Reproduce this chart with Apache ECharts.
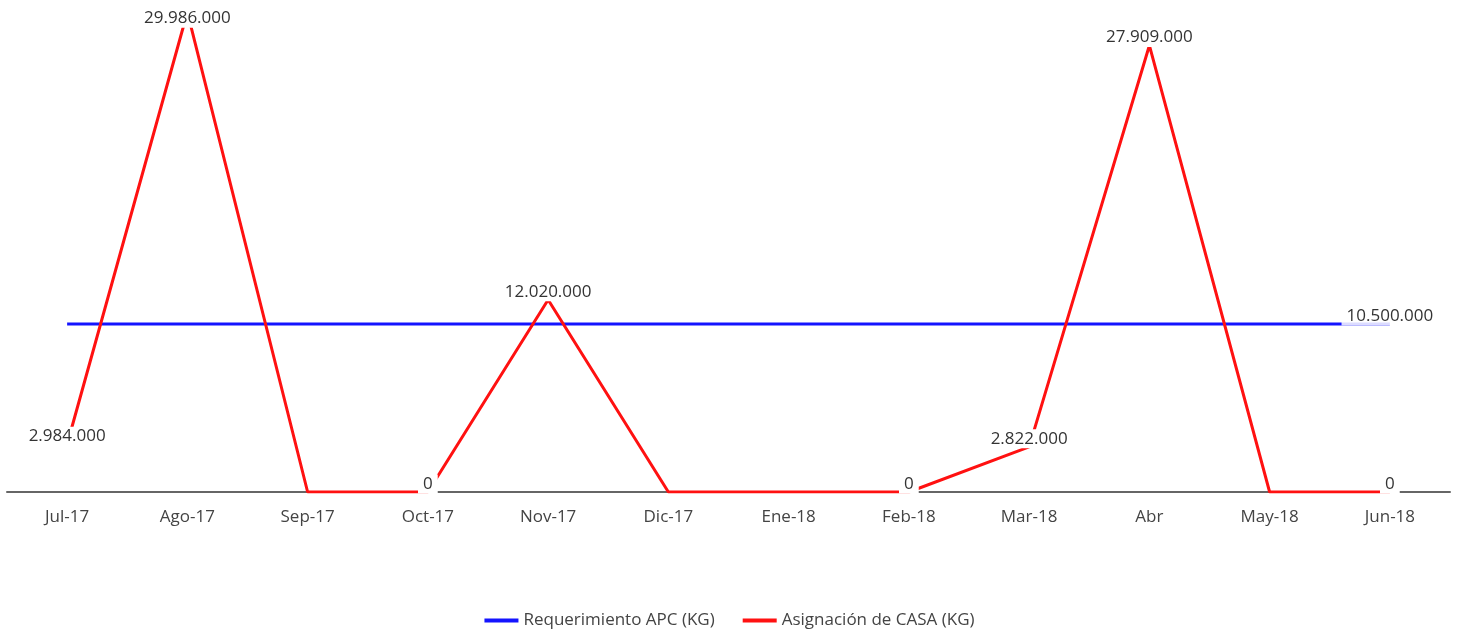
<!DOCTYPE html>
<html>
<head>
<meta charset="utf-8">
<script src="https://cdn.jsdelivr.net/npm/echarts@6/dist/echarts.min.js"></script>
<style>
  html, body { margin: 0; padding: 0; background: #fff; }
  #chart { width: 1459px; height: 632px; }
</style>
</head>
<body>
<div id="chart"></div>
<script>
// meses
const months = ['Jul-17', 'Ago-17', 'Sep-17', 'Oct-17', 'Nov-17', 'Dic-17', 'Ene-18', 'Feb-18', 'Mar-18', 'Abr', 'May-18', 'Jun-18']
const requerimientoApc = [10500000, 10500000, 10500000, 10500000, 10500000, 10500000, 10500000, 10500000, 10500000, 10500000, 10500000, 10500000]
const asignacionCasa = [2984000, 29986000, 0, 0, 12020000, 0, 0, 0, 2822000, 27909000, 0, 0]
// which points carry a value label
const casaLabels = [true, true, false, true, true, false, false, true, true, true, false, true]
const apcLabels = [false, false, false, false, false, false, false, false, false, false, false, true]

const fmt = v => v.toLocaleString('de-DE')

function labelStyle (bg) {
  return {
    position: 'inside',
    offset: [0, -8],
    color: '#333',
    fontFamily: 'Open Sans',
    fontSize: 17,
    backgroundColor: bg,
    padding: [1, 5],
    formatter: p => fmt(p.value)
  }
}

function toData (values, shown) {
  return values.map((v, i) => {
    let item = { value: v, label: { show: shown[i] } }
    // top label pushed down so it stays on the canvas
    if (v > 29000000) item.label.offset = [0, 6]
    return item
  })
}

let myChart = echarts.init(document.getElementById('chart'))
myChart.setOption({
  animation: false,
  textStyle: { fontFamily: 'Open Sans' },
  grid: { left: 7, right: 9, top: 12, bottom: 140 },
  legend: {
    top: 607,
    left: 'center',
    itemWidth: 34,
    itemHeight: 4,
    itemGap: 28,
    icon: 'rect',
    textStyle: { color: '#444', fontSize: 17, fontFamily: 'Open Sans' },
    data: ['Requerimiento APC (KG)', 'Asignación de CASA (KG)']
  },
  xAxis: {
    type: 'category',
    data: months,
    axisTick: { show: false },
    axisLine: { lineStyle: { color: '#666', width: 2 } },
    axisLabel: { color: '#444', fontSize: 17, margin: 17 }
  },
  yAxis: {
    type: 'value',
    min: 0,
    max: 30000000,
    show: false,
    splitLine: { show: false }
  },
  series: [
    {
      name: 'Requerimiento APC (KG)',
      type: 'line',
      symbol: 'circle',
      symbolSize: 0,
      color: '#1414ff',
      lineStyle: { width: 3, color: '#1414ff' },
      label: labelStyle('rgba(255,255,255,0.85)'),
      data: toData(requerimientoApc, apcLabels)
    },
    {
      name: 'Asignación de CASA (KG)',
      type: 'line',
      symbol: 'circle',
      symbolSize: 0,
      color: '#ff1111',
      lineStyle: { width: 3, color: '#ff1111' },
      label: labelStyle('#fff'),
      data: toData(asignacionCasa, casaLabels)
    }
  ]
})
</script>
</body>
</html>
